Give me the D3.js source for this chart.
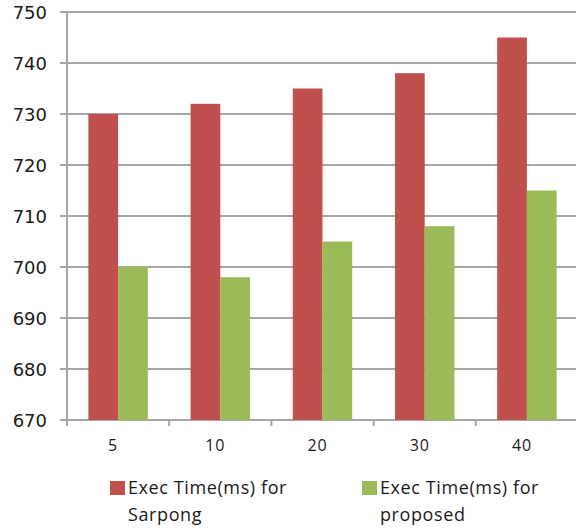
<!DOCTYPE html>
<html><head><meta charset="utf-8">
<script src="https://cdn.jsdelivr.net/npm/d3@7"></script>
<style>body{margin:0;background:#fff}svg{display:block}</style>
</head><body>
<script>
const categories = ["5","10","20","30","40"];
const sarpong = [730, 732, 735, 738, 745];
const proposed = [700, 698, 705, 708, 715];
const seriesNames = ["Exec Time(ms) for Sarpong", "Exec Time(ms) for proposed"];
const yTicks = [670,680,690,700,710,720,730,740,750];

const W = 576, H = 531;
const margin = {left: 67, right: -2, top: 12, bottom: 111};
const svg = d3.select("body").append("svg").attr("width", W).attr("height", H);
const x = d3.scaleBand().domain(categories).range([margin.left, W - margin.right]);
const xs = d3.scaleBand().domain([0,1]).range([0, x.bandwidth()]).paddingOuter(0.72).paddingInner(0);
const y = d3.scaleLinear().domain([670, 750]).range([H - margin.bottom, margin.top]);

const grid = "#a6a6a6";
svg.append("g").selectAll("line").data(yTicks).join("line")
  .attr("x1", margin.left - 7).attr("x2", W).attr("y1", d => y(d)).attr("y2", d => y(d))
  .attr("stroke", grid).attr("stroke-width", 2);
svg.append("line").attr("x1", margin.left).attr("x2", margin.left)
  .attr("y1", y(750)).attr("y2", y(670) + 6).attr("stroke", grid).attr("stroke-width", 2);
const bounds = categories.map(c => x(c)).concat([x(categories[4]) + x.bandwidth()]);
svg.append("g").selectAll("line").data(bounds).join("line")
  .attr("x1", d => d).attr("x2", d => d).attr("y1", y(670)).attr("y2", y(670) + 6)
  .attr("stroke", grid).attr("stroke-width", 2);

svg.append("g").selectAll("text").data(yTicks).join("text")
  .attr("x", 47).attr("y", d => y(d) + 7).attr("text-anchor", "end")
  .attr("font-family", "DejaVu Sans").attr("font-size", 18).attr("fill", "#1a1a1a")
  .text(d => d);
svg.append("g").selectAll("text").data(categories).join("text")
  .attr("x", d => x(d) + x.bandwidth()/2 - 5).attr("y", 451).attr("text-anchor", "middle")
  .attr("font-family", "Open Sans").attr("font-size", 16).attr("letter-spacing", 0.8).attr("fill", "#1a1a1a")
  .text(d => d);

const colors = ["#C0504D", "#9BBB59"];
const data = [sarpong, proposed];
data.forEach((vals, si) => {
  svg.append("g").selectAll("rect").data(vals).join("rect")
    .attr("x", (d, i) => x(categories[i]) + xs(si))
    .attr("width", xs.bandwidth())
    .attr("y", d => y(d))
    .attr("height", d => y(670) - y(d))
    .attr("fill", colors[si]);
});

const legend = [
  {x: 110, lines: ["Exec Time(ms) for", "Sarpong"]},
  {x: 362, lines: ["Exec Time(ms) for", "proposed"]}
];
legend.forEach((l, i) => {
  svg.append("rect").attr("x", l.x).attr("y", 481).attr("width", 15).attr("height", 14).attr("fill", colors[i]);
  const t = svg.append("text").attr("x", l.x + 18).attr("y", 494)
    .attr("font-family", "Open Sans").attr("font-size", 18).attr("letter-spacing", 0.6).attr("fill", "#1a1a1a");
  l.lines.forEach((ln, j) => t.append("tspan").attr("x", l.x + 18).attr("dy", j ? 27 : 0).text(ln));
});
</script>
</body></html>
